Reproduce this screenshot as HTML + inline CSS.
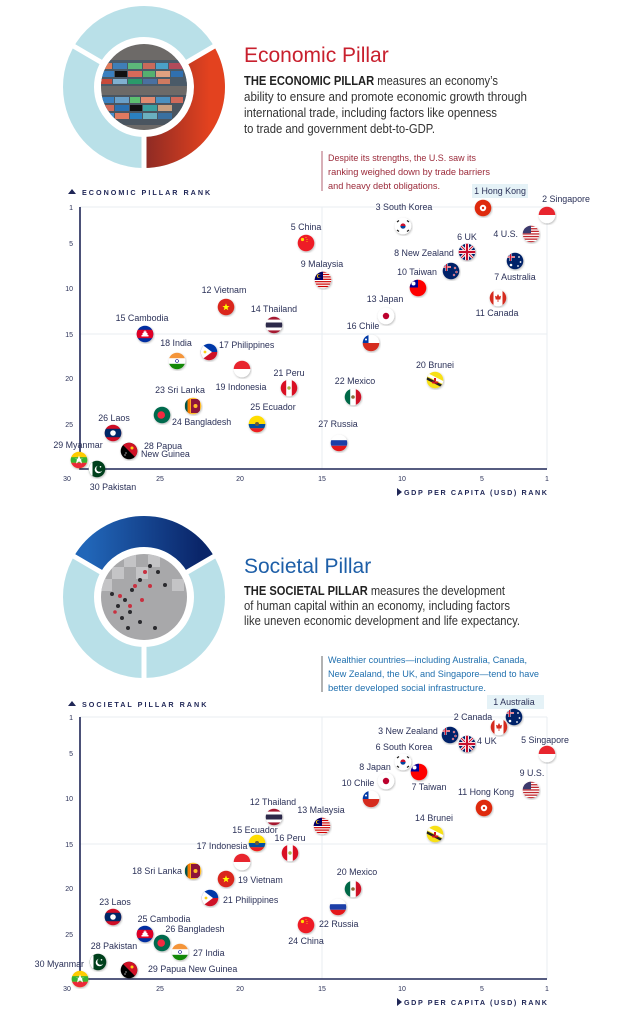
<!DOCTYPE html>
<html><head><meta charset="utf-8"><style>
html,body{margin:0;padding:0;background:#fff;width:628px;height:1024px;overflow:hidden}
svg{display:block}
text{font-family:"Liberation Sans",sans-serif}
.l{font-size:8.9px;fill:#2b3158}
.t{font-size:7px;fill:#2b3158}
.ax{font-size:7.2px;fill:#1f2656;letter-spacing:2px;font-weight:bold}
.b{font-size:12.5px;fill:#333}
.g{stroke:#e9eef2;stroke-width:1;fill:none}
.a{stroke:#1f2656;stroke-width:1.6;fill:none}
</style></head><body>
<svg width="628" height="1024" viewBox="0 0 628 1024" xmlns="http://www.w3.org/2000/svg" xmlns:xlink="http://www.w3.org/1999/xlink">
<defs>
<linearGradient id="rg" x1="0" x2="1" y1="0" y2="0"><stop offset="0" stop-color="#8c2a24"/><stop offset="1" stop-color="#e3421f"/></linearGradient>
<linearGradient id="bg" x1="0" x2="1" y1="0" y2="0"><stop offset="0" stop-color="#2166b8"/><stop offset="1" stop-color="#0a2569"/></linearGradient>
<filter id="sh" x="-50%" y="-50%" width="200%" height="200%"><feDropShadow dx="0.6" dy="1" stdDeviation="1" flood-color="#000" flood-opacity="0.3"/></filter>
<clipPath id="fc"><circle r="8.3"/></clipPath>
<clipPath id="p1"><circle cx="144" cy="87" r="43"/></clipPath>
<clipPath id="p2"><circle cx="144" cy="597" r="43"/></clipPath>
<symbol id="hk" viewBox="-10 -10 20 20"><circle r="8.3" fill="#de2910" filter="url(#sh)"/><circle r="3.2" fill="#fff"/><circle r="1.2" fill="#de2910"/></symbol>
<symbol id="sg" viewBox="-10 -10 20 20"><circle r="8.3" fill="#fff" filter="url(#sh)"/><g clip-path="url(#fc)"><rect x="-9" y="-9" width="18" height="9" fill="#e8252e"/></g></symbol>
<symbol id="kr" viewBox="-10 -10 20 20"><circle r="8.3" fill="#fff" filter="url(#sh)"/><circle r="2.6" fill="#c8102e"/><path d="M-2.6 0a2.6 2.6 0 0 0 5.2 0z" fill="#0047a0"/><g stroke="#222" stroke-width="1.2"><path d="M-6-4l2-1.5M4-5.5l2 1.5M-6 4l2 1.5M4 5.5l2-1.5"/></g></symbol>
<symbol id="us" viewBox="-10 -10 20 20"><circle r="8.3" fill="#fff" filter="url(#sh)"/><g clip-path="url(#fc)"><g fill="#c0272d"><rect x="-9" y="-8.5" width="18" height="1.3"/><rect x="-9" y="-5.9" width="18" height="1.3"/><rect x="-9" y="-3.3" width="18" height="1.3"/><rect x="-9" y="-0.7" width="18" height="1.3"/><rect x="-9" y="1.9" width="18" height="1.3"/><rect x="-9" y="4.5" width="18" height="1.3"/><rect x="-9" y="7.1" width="18" height="1.3"/></g><rect x="-9" y="-9" width="9" height="8.3" fill="#3c3b6e"/></g></symbol>
<symbol id="uk" viewBox="-10 -10 20 20"><circle r="8.3" fill="#012169" filter="url(#sh)"/><g clip-path="url(#fc)"><path d="M-9-9L9 9M9-9L-9 9" stroke="#fff" stroke-width="3"/><path d="M-9-9L9 9M9-9L-9 9" stroke="#c8102e" stroke-width="1"/><path d="M0-9V9M-9 0H9" stroke="#fff" stroke-width="4"/><path d="M0-9V9M-9 0H9" stroke="#c8102e" stroke-width="2.2"/></g></symbol>
<symbol id="nz" viewBox="-10 -10 20 20"><circle r="8.3" fill="#012169" filter="url(#sh)"/><g clip-path="url(#fc)"><path d="M-9-4H0M-4.5-9V0" stroke="#fff" stroke-width="2"/><path d="M-9-4H0M-4.5-9V0" stroke="#c8102e" stroke-width="1"/><g fill="#c8102e" stroke="#fff" stroke-width="0.4"><circle cx="4" cy="-3" r="1"/><circle cx="5.5" cy="1" r="1"/><circle cx="3" cy="4" r="1"/></g></g></symbol>
<symbol id="au" viewBox="-10 -10 20 20"><circle r="8.3" fill="#012169" filter="url(#sh)"/><g clip-path="url(#fc)"><path d="M-9-4H0M-4.5-9V0" stroke="#fff" stroke-width="2"/><path d="M-9-4H0M-4.5-9V0" stroke="#c8102e" stroke-width="1"/><g fill="#fff"><circle cx="-4" cy="4" r="1.3"/><circle cx="4" cy="-4" r="0.9"/><circle cx="5.5" cy="1" r="0.9"/><circle cx="3" cy="5" r="0.9"/></g></g></symbol>
<symbol id="tw" viewBox="-10 -10 20 20"><circle r="8.3" fill="#fe0000" filter="url(#sh)"/><g clip-path="url(#fc)"><rect x="-9" y="-9" width="9" height="8.5" fill="#000095"/><circle cx="-4.5" cy="-4.5" r="2" fill="#fff"/></g></symbol>
<symbol id="ca" viewBox="-10 -10 20 20"><circle r="8.3" fill="#fff" filter="url(#sh)"/><g clip-path="url(#fc)"><rect x="-9" y="-9" width="4.5" height="18" fill="#d52b1e"/><rect x="4.5" y="-9" width="4.5" height="18" fill="#d52b1e"/><path d="M0-4L1.3-1.5 3-2.2 2.3 1.5H-2.3L-3-2.2-1.3-1.5z M-0.4 1.5h0.8v2.5h-0.8z" fill="#d52b1e"/></g></symbol>
<symbol id="jp" viewBox="-10 -10 20 20"><circle r="8.3" fill="#fff" filter="url(#sh)"/><circle r="3.2" fill="#bc002d"/></symbol>
<symbol id="cn" viewBox="-10 -10 20 20"><circle r="8.3" fill="#ee1c25" filter="url(#sh)"/><circle cx="-3.5" cy="-3.5" r="1.6" fill="#ffde00"/><g fill="#ffde00"><circle cx="0" cy="-5.5" r="0.5"/><circle cx="1" cy="-3.5" r="0.5"/><circle cx="1" cy="-1.5" r="0.5"/></g></symbol>
<symbol id="my" viewBox="-10 -10 20 20"><circle r="8.3" fill="#fff" filter="url(#sh)"/><g clip-path="url(#fc)"><g fill="#cc0001"><rect x="-9" y="-8.5" width="18" height="1.2"/><rect x="-9" y="-6.1" width="18" height="1.2"/><rect x="-9" y="-3.7" width="18" height="1.2"/><rect x="-9" y="-1.3" width="18" height="1.2"/><rect x="-9" y="1.1" width="18" height="1.2"/><rect x="-9" y="3.5" width="18" height="1.2"/><rect x="-9" y="5.9" width="18" height="1.2"/></g><rect x="-9" y="-9" width="9" height="9" fill="#010066"/><circle cx="-4" cy="-4" r="2" fill="#fc0"/><circle cx="-3.4" cy="-4" r="1.6" fill="#010066"/></g></symbol>
<symbol id="vn" viewBox="-10 -10 20 20"><circle r="8.3" fill="#da251d" filter="url(#sh)"/><path d="M0-3.6L1 -1 3.6-1 1.5 0.7 2.3 3.3 0 1.7-2.3 3.3-1.5 0.7-3.6-1-1-1z" fill="#ff0"/></symbol>
<symbol id="th" viewBox="-10 -10 20 20"><circle r="8.3" fill="#fff" filter="url(#sh)"/><g clip-path="url(#fc)"><rect x="-9" y="-9" width="18" height="3.6" fill="#a51931"/><rect x="-9" y="-2.5" width="18" height="5" fill="#2d2a4a"/><rect x="-9" y="5.4" width="18" height="4" fill="#a51931"/></g></symbol>
<symbol id="kh" viewBox="-10 -10 20 20"><circle r="8.3" fill="#032ea1" filter="url(#sh)"/><g clip-path="url(#fc)"><rect x="-9" y="-4.2" width="18" height="8.4" fill="#e00025"/><path d="M-3.5 2.5h7v-1.5h-1v-2h-1v-1.5h-1v-1h-1v1h-1v1.5h-1v2h-1z" fill="#fff"/></g></symbol>
<symbol id="cl" viewBox="-10 -10 20 20"><circle r="8.3" fill="#fff" filter="url(#sh)"/><g clip-path="url(#fc)"><rect x="-9" y="0" width="18" height="9" fill="#d52b1e"/><rect x="-9" y="-9" width="6.5" height="9" fill="#0039a6"/><circle cx="-5" cy="-3.5" r="1" fill="#fff"/></g></symbol>
<symbol id="in" viewBox="-10 -10 20 20"><circle r="8.3" fill="#fff" filter="url(#sh)"/><g clip-path="url(#fc)"><rect x="-9" y="-9" width="18" height="6.2" fill="#f4953a"/><rect x="-9" y="2.8" width="18" height="6.2" fill="#138808"/><circle r="1.5" fill="none" stroke="#000080" stroke-width="0.6"/></g></symbol>
<symbol id="ph" viewBox="-10 -10 20 20"><circle r="8.3" fill="#fff" filter="url(#sh)"/><g clip-path="url(#fc)"><rect x="-9" y="-9" width="18" height="9" fill="#0038a8"/><rect x="-9" y="0" width="18" height="9" fill="#ce1126"/><path d="M-9-9L3 0-9 9z" fill="#fff"/><circle cx="-4" cy="0" r="1.4" fill="#fcd116"/></g></symbol>
<symbol id="id" viewBox="-10 -10 20 20"><circle r="8.3" fill="#fff" filter="url(#sh)"/><g clip-path="url(#fc)"><rect x="-9" y="-9" width="18" height="9" fill="#e8252e"/></g></symbol>
<symbol id="pe" viewBox="-10 -10 20 20"><circle r="8.3" fill="#fff" filter="url(#sh)"/><g clip-path="url(#fc)"><rect x="-9" y="-9" width="6.2" height="18" fill="#d91023"/><rect x="2.8" y="-9" width="6.2" height="18" fill="#d91023"/><circle r="1.7" fill="#a5b04a"/></g></symbol>
<symbol id="bn" viewBox="-10 -10 20 20"><circle r="8.3" fill="#f7e017" filter="url(#sh)"/><g clip-path="url(#fc)"><path d="M-9-6L9 3" stroke="#fff" stroke-width="3"/><path d="M-9-2L9 7" stroke="#222" stroke-width="2.5"/><path d="M-3.5 1.5h7l-1 2h-5z M-1-2h2v3h-2z" fill="#cf1126"/></g></symbol>
<symbol id="mx" viewBox="-10 -10 20 20"><circle r="8.3" fill="#fff" filter="url(#sh)"/><g clip-path="url(#fc)"><rect x="-9" y="-9" width="6.2" height="18" fill="#006847"/><rect x="2.8" y="-9" width="6.2" height="18" fill="#ce1126"/><circle r="1.8" fill="#8c6b3a"/></g></symbol>
<symbol id="lk" viewBox="-10 -10 20 20"><circle r="8.3" fill="#ffbe29" filter="url(#sh)"/><g clip-path="url(#fc)"><rect x="-8" y="-9" width="2.6" height="18" fill="#00534e"/><rect x="-5.4" y="-9" width="2.6" height="18" fill="#f57a00"/><rect x="-2" y="-7" width="9" height="14" fill="#8d153a"/><circle cx="2.5" r="2" fill="#ffbe29"/></g></symbol>
<symbol id="bd" viewBox="-10 -10 20 20"><circle r="8.3" fill="#006a4e" filter="url(#sh)"/><circle cx="-0.8" r="3.8" fill="#f42a41"/></symbol>
<symbol id="ec" viewBox="-10 -10 20 20"><circle r="8.3" fill="#ffdd00" filter="url(#sh)"/><g clip-path="url(#fc)"><rect x="-9" y="0" width="18" height="4.3" fill="#034ea2"/><rect x="-9" y="4.3" width="18" height="5" fill="#ed1c24"/><circle r="2" fill="#6b5a3a"/></g></symbol>
<symbol id="ru" viewBox="-10 -10 20 20"><circle r="8.3" fill="#fff" filter="url(#sh)"/><g clip-path="url(#fc)"><rect x="-9" y="-2.8" width="18" height="5.6" fill="#1c3fa8"/><rect x="-9" y="2.8" width="18" height="6.2" fill="#e4181c"/></g></symbol>
<symbol id="la" viewBox="-10 -10 20 20"><circle r="8.3" fill="#ce1126" filter="url(#sh)"/><g clip-path="url(#fc)"><rect x="-9" y="-4.2" width="18" height="8.4" fill="#002868"/><circle r="2.8" fill="#fff"/></g></symbol>
<symbol id="pg" viewBox="-10 -10 20 20"><circle r="8.3" fill="#000" filter="url(#sh)"/><g clip-path="url(#fc)"><path d="M-9-9H9V9z" fill="#ce1126"/><circle cx="3" cy="-3" r="1.5" fill="#fcd116"/><circle cx="-3" cy="2" r="0.6" fill="#fff"/><circle cx="-4" cy="4" r="0.6" fill="#fff"/></g></symbol>
<symbol id="mm" viewBox="-10 -10 20 20"><circle r="8.3" fill="#fecb00" filter="url(#sh)"/><g clip-path="url(#fc)"><rect x="-9" y="-2.8" width="18" height="5.6" fill="#34b233"/><rect x="-9" y="2.8" width="18" height="6.2" fill="#ea2839"/><path d="M0-4.5L1.3-1.2 4.6-1.2 2-0.8 3 3.6 0 1.4-3 3.6-2-0.8-4.6-1.2-1.3-1.2z" fill="#fff"/></g></symbol>
<symbol id="pk" viewBox="-10 -10 20 20"><circle r="8.3" fill="#01411c" filter="url(#sh)"/><g clip-path="url(#fc)"><rect x="-9" y="-9" width="4.5" height="18" fill="#fff"/><circle cx="1.5" cy="0.5" r="3.8" fill="#fff"/><circle cx="2.6" cy="-0.5" r="3.3" fill="#01411c"/><circle cx="3.5" cy="-2.2" r="0.8" fill="#fff"/></g></symbol>
</defs>

<!-- ===== SECTION 1 ===== -->
<circle cx="144" cy="87" r="65.5" fill="none" stroke="#b9e0e8" stroke-width="31"/>
<path d="M200.7 54.25A65.5 65.5 0 0 1 144 152.5" fill="none" stroke="url(#rg)" stroke-width="31"/>
<g stroke="#fff" stroke-width="5"><path d="M184.7 63.5L218 44M103.3 63.5L70 44M144 134V172"/></g>
<circle cx="144" cy="87" r="49" fill="#fff"/>
<g clip-path="url(#p1)">
<rect x="95" y="40" width="100" height="100" fill="#6d6a68"/>
<rect x="95" y="60" width="100" height="26" fill="#4a5a68"/>
<rect x="100" y="63" width="12" height="6" fill="#e07a5a"/><rect x="113" y="63" width="14" height="6" fill="#3f7fb8"/><rect x="128" y="63" width="14" height="6" fill="#5cb87a"/><rect x="143" y="63" width="12" height="6" fill="#c86a5a"/><rect x="156" y="63" width="12" height="6" fill="#4aa0c8"/><rect x="169" y="63" width="14" height="6" fill="#b04a5a"/>
<rect x="100" y="71" width="14" height="6" fill="#3a80c0"/><rect x="115" y="71" width="12" height="6" fill="#111"/><rect x="128" y="71" width="14" height="6" fill="#d86a5a"/><rect x="143" y="71" width="12" height="6" fill="#55b070"/><rect x="156" y="71" width="14" height="6" fill="#e0a080"/><rect x="171" y="71" width="12" height="6" fill="#3070b0"/>
<rect x="100" y="79" width="12" height="5" fill="#c84a3a"/><rect x="113" y="79" width="14" height="5" fill="#80b0d0"/><rect x="128" y="79" width="14" height="5" fill="#2a9a6a"/><rect x="143" y="79" width="14" height="5" fill="#4a70a0"/><rect x="158" y="79" width="12" height="5" fill="#d07a60"/>
<rect x="95" y="95" width="100" height="30" fill="#4a5560"/>
<rect x="100" y="97" width="14" height="6" fill="#3a80c0"/><rect x="115" y="97" width="14" height="6" fill="#6aa0c8"/><rect x="130" y="97" width="10" height="6" fill="#5cc070"/><rect x="141" y="97" width="14" height="6" fill="#e08a70"/><rect x="156" y="97" width="14" height="6" fill="#4a90c0"/><rect x="171" y="97" width="12" height="6" fill="#d06a5a"/>
<rect x="100" y="105" width="14" height="6" fill="#d06a5a"/><rect x="115" y="105" width="14" height="6" fill="#2a70b0"/><rect x="130" y="105" width="12" height="6" fill="#111"/><rect x="143" y="105" width="14" height="6" fill="#3aa0a0"/><rect x="158" y="105" width="14" height="6" fill="#c8a080"/>
<rect x="100" y="113" width="14" height="6" fill="#4a90d0"/><rect x="115" y="113" width="14" height="6" fill="#e07a60"/><rect x="130" y="113" width="12" height="6" fill="#2a80c0"/><rect x="143" y="113" width="14" height="6" fill="#6ab0c0"/><rect x="158" y="113" width="14" height="6" fill="#3a70a0"/>
</g>
<text x="244" y="62" font-size="21" fill="#c8202e">Economic Pillar</text>
<text class="b" x="244" y="85" textLength="254" lengthAdjust="spacingAndGlyphs"><tspan font-weight="bold" fill="#222">THE ECONOMIC PILLAR</tspan> measures an economy’s</text>
<text class="b" x="244" y="101" textLength="283" lengthAdjust="spacingAndGlyphs">ability to ensure and promote economic growth through</text>
<text class="b" x="244" y="117" textLength="253" lengthAdjust="spacingAndGlyphs">international trade, including factors like openness</text>
<text class="b" x="244" y="133" textLength="191" lengthAdjust="spacingAndGlyphs">to trade and government debt-to-GDP.</text>
<line x1="322" y1="151" x2="322" y2="191" stroke="#b06070" stroke-width="1"/>
<g font-size="9.5" fill="#9b2a3a">
<text x="328" y="161" textLength="148" lengthAdjust="spacingAndGlyphs">Despite its strengths, the U.S. saw its</text>
<text x="328" y="175" textLength="162" lengthAdjust="spacingAndGlyphs">ranking weighed down by trade barriers</text>
<text x="328" y="189" textLength="112" lengthAdjust="spacingAndGlyphs">and heavy debt obligations.</text>
</g>
<path d="M68 194L72 189L76 194z" fill="#1f2656"/>
<text class="ax" x="82" y="195">ECONOMIC PILLAR RANK</text>
<path class="g" d="M80 207H547M80 334H547M322 207V469M547 207V469"/>
<path class="a" d="M80 207V469H547"/>
<g class="t" text-anchor="end"><text x="73" y="210">1</text><text x="73" y="246">5</text><text x="73" y="291">10</text><text x="73" y="337">15</text><text x="73" y="381">20</text><text x="73" y="427">25</text></g>
<g class="t" text-anchor="middle"><text x="67" y="481">30</text><text x="160" y="481">25</text><text x="240" y="481">20</text><text x="322" y="481">15</text><text x="402" y="481">10</text><text x="482" y="481">5</text><text x="547" y="481">1</text></g>
<path d="M397 488V496L402 492z" fill="#1f2656"/>
<text class="ax" x="404" y="495" textLength="145">GDP PER CAPITA (USD) RANK</text>
<rect x="472" y="184" width="56" height="14" fill="#e5f2f7"/>
<use href="#hk" x="473" y="198" width="20" height="20"/>
<use href="#sg" x="537" y="205" width="20" height="20"/>
<use href="#kr" x="393" y="216" width="20" height="20"/>
<use href="#us" x="521" y="224" width="20" height="20"/>
<use href="#uk" x="457" y="242" width="20" height="20"/>
<use href="#nz" x="441" y="261" width="20" height="20"/>
<use href="#au" x="505" y="251" width="20" height="20"/>
<use href="#tw" x="408" y="278" width="20" height="20"/>
<use href="#ca" x="488" y="288" width="20" height="20"/>
<use href="#jp" x="376" y="306" width="20" height="20"/>
<use href="#cl" x="361" y="333" width="20" height="20"/>
<use href="#bn" x="425" y="370" width="20" height="20"/>
<use href="#mx" x="343" y="387" width="20" height="20"/>
<use href="#ru" x="329" y="433" width="20" height="20"/>
<use href="#cn" x="296" y="233" width="20" height="20"/>
<use href="#my" x="313" y="270" width="20" height="20"/>
<use href="#vn" x="216" y="297" width="20" height="20"/>
<use href="#th" x="264" y="315" width="20" height="20"/>
<use href="#kh" x="135" y="324" width="20" height="20"/>
<use href="#in" x="167" y="351" width="20" height="20"/>
<use href="#ph" x="199" y="342" width="20" height="20"/>
<use href="#id" x="232" y="359" width="20" height="20"/>
<use href="#pe" x="279" y="378" width="20" height="20"/>
<use href="#lk" x="183" y="396" width="20" height="20"/>
<use href="#bd" x="152" y="405" width="20" height="20"/>
<use href="#ec" x="247" y="414" width="20" height="20"/>
<use href="#la" x="103" y="423" width="20" height="20"/>
<use href="#pg" x="119" y="441" width="20" height="20"/>
<use href="#mm" x="69" y="450" width="20" height="20"/>
<use href="#pk" x="87" y="459" width="20" height="20"/>
<g class="l" text-anchor="middle">
<text x="500" y="194">1 Hong Kong</text>
<text x="566" y="202">2 Singapore</text>
<text x="404" y="210">3 South Korea</text>
<text x="467" y="240">6 UK</text>
<text x="424" y="256">8 New Zealand</text>
<text x="515" y="280">7 Australia</text>
<text x="417" y="275">10 Taiwan</text>
<text x="497" y="316">11 Canada</text>
<text x="385" y="302">13 Japan</text>
<text x="363" y="329">16 Chile</text>
<text x="435" y="368">20 Brunei</text>
<text x="355" y="384">22 Mexico</text>
<text x="338" y="427">27 Russia</text>
<text x="306" y="230">5 China</text>
<text x="322" y="267">9 Malaysia</text>
<text x="224" y="293">12 Vietnam</text>
<text x="274" y="312">14 Thailand</text>
<text x="142" y="321">15 Cambodia</text>
<text x="176" y="346">18 India</text>
<text x="241" y="390">19 Indonesia</text>
<text x="289" y="376">21 Peru</text>
<text x="180" y="393">23 Sri Lanka</text>
<text x="273" y="410">25 Ecuador</text>
<text x="114" y="421">26 Laos</text>
<text x="78" y="448">29 Myanmar</text>
<text x="113" y="490">30 Pakistan</text>
</g>
<g class="l">
<text x="518" y="237" text-anchor="end">4 U.S.</text>
<text x="219" y="348">17 Philippines</text>
<text x="172" y="425">24 Bangladesh</text>
<text x="144" y="449">28 Papua</text>
<text x="141" y="457">New Guinea</text>
</g>

<!-- ===== SECTION 2 ===== -->
<circle cx="144" cy="597" r="65.5" fill="none" stroke="#b9e0e8" stroke-width="31"/>
<path d="M87.3 564.25A65.5 65.5 0 0 1 200.7 564.25" fill="none" stroke="url(#bg)" stroke-width="31"/>
<g stroke="#fff" stroke-width="5"><path d="M184.7 573.5L218 554M103.3 573.5L70 554M144 644V682"/></g>
<circle cx="144" cy="597" r="49" fill="#fff"/>
<g clip-path="url(#p2)">
<rect x="95" y="550" width="100" height="100" fill="#a8a8aa"/>
<g fill="#c4c4c6"><rect x="100" y="555" width="12" height="12"/><rect x="124" y="555" width="12" height="12"/><rect x="148" y="555" width="12" height="12"/><rect x="112" y="567" width="12" height="12"/><rect x="136" y="567" width="12" height="12"/><rect x="100" y="579" width="12" height="12"/><rect x="172" y="579" width="12" height="12"/></g>
<g fill="#2a2a2e"><circle cx="150" cy="566" r="2"/><circle cx="158" cy="572" r="2"/><circle cx="140" cy="580" r="2"/><circle cx="132" cy="590" r="2"/><circle cx="125" cy="600" r="2"/><circle cx="118" cy="606" r="2"/><circle cx="130" cy="612" r="2"/><circle cx="122" cy="618" r="2"/><circle cx="140" cy="622" r="2"/><circle cx="112" cy="594" r="2"/><circle cx="165" cy="585" r="2"/><circle cx="155" cy="628" r="2"/><circle cx="128" cy="628" r="2"/></g>
<g fill="#c83040"><circle cx="145" cy="572" r="2"/><circle cx="135" cy="586" r="2"/><circle cx="120" cy="596" r="2"/><circle cx="130" cy="606" r="2"/><circle cx="150" cy="586" r="2"/><circle cx="115" cy="612" r="1.8"/><circle cx="142" cy="600" r="2"/></g>
</g>
<text x="244" y="573" font-size="21" fill="#1e5fa8">Societal Pillar</text>
<text class="b" x="244" y="595" textLength="261" lengthAdjust="spacingAndGlyphs"><tspan font-weight="bold" fill="#222">THE SOCIETAL PILLAR</tspan> measures the development</text>
<text class="b" x="244" y="610" textLength="266" lengthAdjust="spacingAndGlyphs">of human capital within an economy, including factors</text>
<text class="b" x="244" y="625" textLength="276" lengthAdjust="spacingAndGlyphs">like uneven economic development and life expectancy.</text>
<line x1="322" y1="656" x2="322" y2="692" stroke="#666" stroke-width="1"/>
<g font-size="9.5" fill="#1f6fae">
<text x="328" y="663" textLength="199" lengthAdjust="spacingAndGlyphs">Wealthier countries—including Australia, Canada,</text>
<text x="328" y="677" textLength="211" lengthAdjust="spacingAndGlyphs">New Zealand, the UK, and Singapore—tend to have</text>
<text x="328" y="691" textLength="158" lengthAdjust="spacingAndGlyphs">better developed social infrastructure.</text>
</g>
<path d="M68 706L72 701L76 706z" fill="#1f2656"/>
<text class="ax" x="82" y="707">SOCIETAL PILLAR RANK</text>
<path class="g" d="M80 717H547M80 844H547M322 717V979M547 717V979"/>
<path class="a" d="M80 717V979H547"/>
<g class="t" text-anchor="end"><text x="73" y="720">1</text><text x="73" y="756">5</text><text x="73" y="801">10</text><text x="73" y="847">15</text><text x="73" y="891">20</text><text x="73" y="937">25</text></g>
<g class="t" text-anchor="middle"><text x="67" y="991">30</text><text x="160" y="991">25</text><text x="240" y="991">20</text><text x="322" y="991">15</text><text x="402" y="991">10</text><text x="482" y="991">5</text><text x="547" y="991">1</text></g>
<path d="M397 998V1006L402 1002z" fill="#1f2656"/>
<text class="ax" x="404" y="1005" textLength="145">GDP PER CAPITA (USD) RANK</text>
<rect x="487" y="695" width="57" height="14" fill="#e5f2f7"/>
<use href="#ca" x="489" y="717" width="20" height="20"/>
<use href="#au" x="504" y="707" width="20" height="20"/>
<use href="#nz" x="440" y="725" width="20" height="20"/>
<use href="#uk" x="457" y="734" width="20" height="20"/>
<use href="#sg" x="537" y="744" width="20" height="20"/>
<use href="#kr" x="393" y="752" width="20" height="20"/>
<use href="#tw" x="409" y="762" width="20" height="20"/>
<use href="#jp" x="376" y="771" width="20" height="20"/>
<use href="#us" x="521" y="780" width="20" height="20"/>
<use href="#cl" x="361" y="789" width="20" height="20"/>
<use href="#hk" x="474" y="798" width="20" height="20"/>
<use href="#bn" x="425" y="824" width="20" height="20"/>
<use href="#th" x="264" y="807" width="20" height="20"/>
<use href="#my" x="312" y="816" width="20" height="20"/>
<use href="#ec" x="247" y="833" width="20" height="20"/>
<use href="#pe" x="280" y="843" width="20" height="20"/>
<use href="#id" x="232" y="852" width="20" height="20"/>
<use href="#lk" x="183" y="861" width="20" height="20"/>
<use href="#vn" x="216" y="869" width="20" height="20"/>
<use href="#ph" x="200" y="888" width="20" height="20"/>
<use href="#mx" x="343" y="879" width="20" height="20"/>
<use href="#ru" x="328" y="897" width="20" height="20"/>
<use href="#cn" x="296" y="915" width="20" height="20"/>
<use href="#la" x="103" y="907" width="20" height="20"/>
<use href="#kh" x="135" y="924" width="20" height="20"/>
<use href="#bd" x="152" y="933" width="20" height="20"/>
<use href="#in" x="170" y="942" width="20" height="20"/>
<use href="#pk" x="88" y="952" width="20" height="20"/>
<use href="#pg" x="119" y="960" width="20" height="20"/>
<use href="#mm" x="70" y="969" width="20" height="20"/>
<g class="l" text-anchor="middle">
<text x="514" y="705">1 Australia</text>
<text x="473" y="720">2 Canada</text>
<text x="408" y="734">3 New Zealand</text>
<text x="545" y="743">5 Singapore</text>
<text x="404" y="750">6 South Korea</text>
<text x="429" y="790">7 Taiwan</text>
<text x="375" y="770">8 Japan</text>
<text x="532" y="776">9 U.S.</text>
<text x="358" y="786">10 Chile</text>
<text x="486" y="795">11 Hong Kong</text>
<text x="434" y="821">14 Brunei</text>
<text x="273" y="805">12 Thailand</text>
<text x="321" y="813">13 Malaysia</text>
<text x="255" y="833">15 Ecuador</text>
<text x="290" y="841">16 Peru</text>
<text x="222" y="849">17 Indonesia</text>
<text x="157" y="874">18 Sri Lanka</text>
<text x="357" y="875">20 Mexico</text>
<text x="306" y="944">24 China</text>
<text x="115" y="905">23 Laos</text>
<text x="164" y="922">25 Cambodia</text>
<text x="195" y="932">26 Bangladesh</text>
<text x="114" y="949">28 Pakistan</text>
</g>
<g class="l">
<text x="477" y="744">4 UK</text>
<text x="238" y="883">19 Vietnam</text>
<text x="223" y="903">21 Philippines</text>
<text x="319" y="927">22 Russia</text>
<text x="193" y="956">27 India</text>
<text x="148" y="972">29 Papua New Guinea</text>
<text x="84" y="967" text-anchor="end">30 Myanmar</text>
</g>
</svg>
</body></html>
